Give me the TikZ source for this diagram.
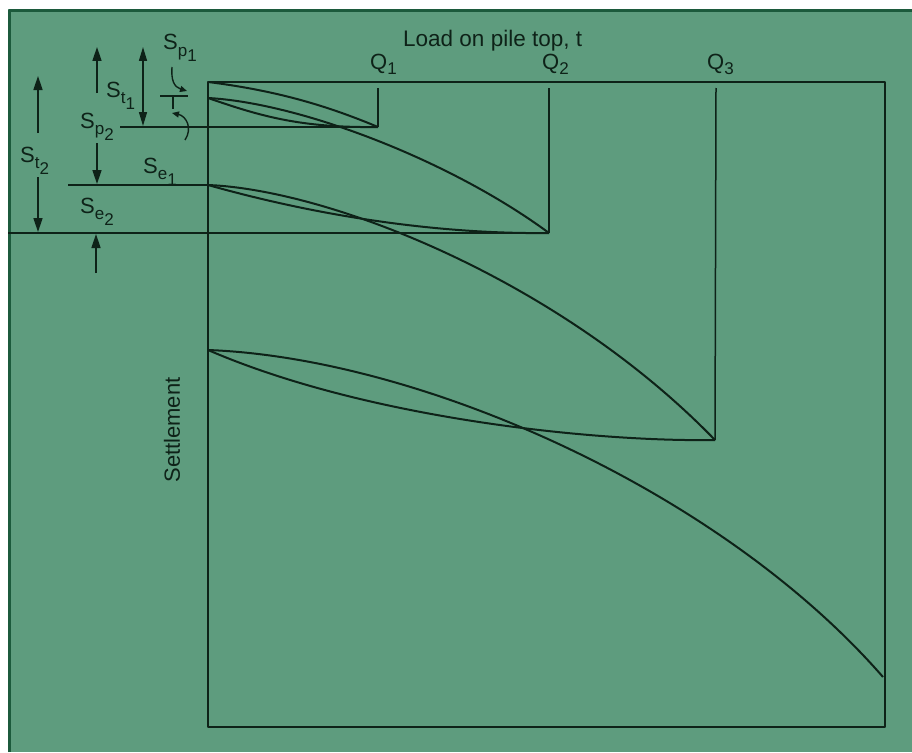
\documentclass[tikz,border=0pt]{standalone}
\usepackage{fontspec}
\setmainfont{Liberation Sans}
\usetikzlibrary{arrows.meta}
\definecolor{bg}{RGB}{94,156,126}
\definecolor{bord}{RGB}{28,90,60}
\definecolor{ink}{RGB}{14,34,24}
\newcommand{\slab}[2]{S\raisebox{-6pt}{\fontsize{17}{17}\selectfont #1\raisebox{-6pt}{#2}}}
\newcommand{\qlab}[1]{Q\raisebox{-5pt}{\fontsize{17}{17}\selectfont #1}}
\begin{document}
\begin{tikzpicture}[x=1pt,y=-1pt,line join=round,
  curve/.style={ink,line width=2pt},
  frame/.style={ink,line width=1.8pt},
  thin line/.style={ink,line width=1.5pt},
  dim/.style={ink,line width=1.5pt,-{Triangle[length=14pt,width=9pt]}},
  dimboth/.style={ink,line width=1.5pt,{Triangle[length=14pt,width=8pt]}-{Triangle[length=14pt,width=8pt]}},
  small arrow/.style={ink,line width=1.4pt,-{Triangle[length=7pt,width=6pt]}},
  lab/.style={ink,font=\fontsize{22}{22}\selectfont,inner sep=0pt}]
\useasboundingbox (0,0) rectangle (912,752);
\fill[white] (0,0) rectangle (912,752);
\fill[bg] (8,9) rectangle (912,752);
\draw[bord,line width=3pt] (9.5,752) -- (9.5,10.5) -- (912,10.5);

% key points
\coordinate (O) at (208,82);
\coordinate (TR) at (885,82);
\coordinate (BR) at (885,727);
\coordinate (BL) at (208,727);
\coordinate (P1) at (378,127);
\coordinate (P2) at (549,233);
\coordinate (P3) at (715,440);
\coordinate (A1) at (208,98);
\coordinate (A2) at (208,185);
\coordinate (A3) at (208,350);
\coordinate (E) at (883,677);

% frame
\draw[frame] (O) -- (TR) -- (BR) -- (BL) -- cycle;

% Q verticals
\coordinate (T1) at (378,88);
\coordinate (T2) at (549,88);
\coordinate (T3) at (716,88);
\draw[thin line] (T1) -- (P1);
\draw[thin line] (T2) -- (P2);
\draw[thin line] (T3) -- (P3);

% load-settlement cycles
\draw[curve] (O) .. controls (280,91) and (330,107) .. (P1);
\draw[curve] (P1) .. controls (300,128) and (260,116) .. (A1);
\draw[curve] (A1) .. controls (300,103) and (450,160) .. (P2);
\draw[curve] (P2) .. controls (470,234) and (350,225) .. (A2);
\draw[curve] (A2) .. controls (330,190) and (560,280) .. (P3);
\draw[curve] (P3) .. controls (600,442) and (370,420) .. (A3);
\draw[curve] (A3) .. controls (420,358) and (720,490) .. (E);

% extension lines
\coordinate (L1) at (120,127);
\coordinate (L2) at (68,185);
\coordinate (L3) at (8,233);
\draw[thin line] (L1) -- (P1);
\draw[thin line] (L2) -- (A2);
\draw[thin line] (L3) -- (P2);

% dimension arrows
\coordinate (st2a) at (38,133); \coordinate (st2b) at (38,76);
\coordinate (st2c) at (38,177); \coordinate (st2d) at (38,232);
\draw[dim] (st2a) -- (st2b);
\draw[dim] (st2c) -- (st2d);
\coordinate (sp2a) at (97,93); \coordinate (sp2b) at (97,47);
\coordinate (sp2c) at (97,143); \coordinate (sp2d) at (97,184);
\draw[dim] (sp2a) -- (sp2b);
\draw[dim] (sp2c) -- (sp2d);
\coordinate (st1a) at (143,47); \coordinate (st1b) at (143,126);
\draw[dimboth] (st1a) -- (st1b);
\coordinate (se2a) at (96,273); \coordinate (se2b) at (96,234);
\draw[dim] (se2a) -- (se2b);

% Sp1 marks
\coordinate (sp1a) at (172,67); \coordinate (sp1b) at (187,91);
\draw[small arrow] (sp1a) .. controls (171,80) and (174,87) .. (sp1b);
\coordinate (tk1) at (160,96); \coordinate (tk2) at (188,96);
\draw[thin line] (tk1) -- (tk2);
\coordinate (vk1) at (173,97); \coordinate (vk2) at (173,109);
\draw[thin line] (vk1) -- (vk2);
\coordinate (cb1) at (185,140); \coordinate (cb2) at (172,113);
\draw[small arrow] (cb1) .. controls (193,128) and (186,116) .. (cb2);

% labels
\node[lab,anchor=base west] (lsp1) at (163,50) {\slab{p}{1}};
\node[lab,anchor=base west] (lst1) at (106,97) {\slab{t}{1}};
\node[lab,anchor=base west] (lsp2) at (80,128) {\slab{p}{2}};
\node[lab,anchor=base west] (lst2) at (20,162) {\slab{t}{2}};
\node[lab,anchor=base west] (lse1) at (143,173) {\slab{e}{1}};
\node[lab,anchor=base west] (lse2) at (80,213) {\slab{e}{2}};
\node[lab,anchor=base west] (lq1) at (370,70) {\qlab{1}};
\node[lab,anchor=base west] (lq2) at (542,70) {\qlab{2}};
\node[lab,anchor=base west] (lq3) at (707,70) {\qlab{3}};
\node[lab,anchor=base west,font=\fontsize{22.5}{22.5}\selectfont] (load) at (403,47) {Load on pile top, t};
\node[lab,rotate=90] (settle) at (172,430) {Settlement};
\end{tikzpicture}
\end{document}
